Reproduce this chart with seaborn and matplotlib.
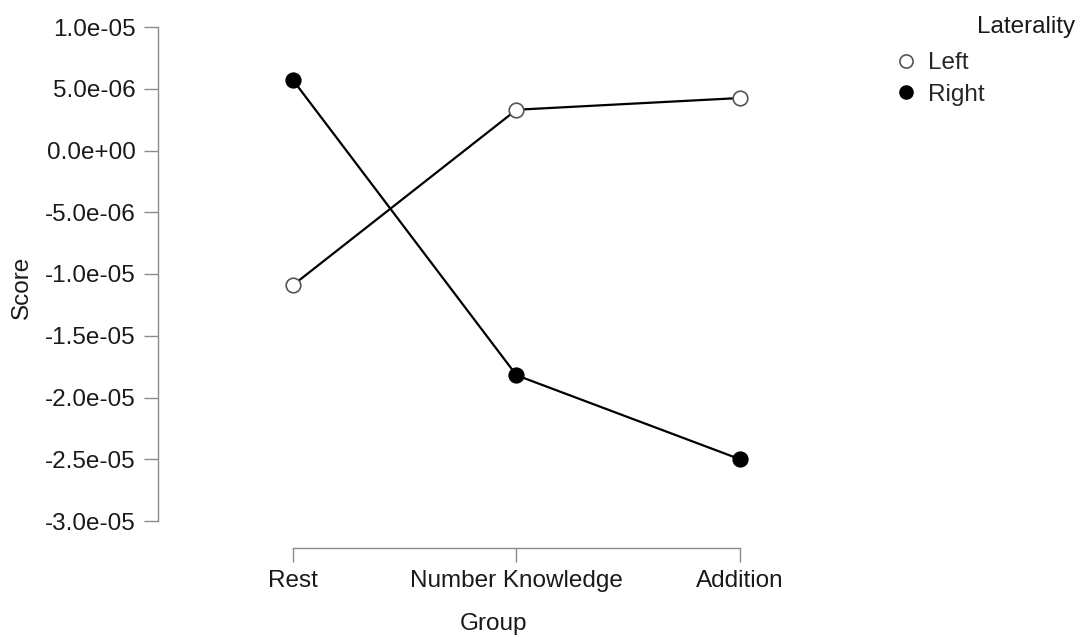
import matplotlib
matplotlib.use("Agg")
import matplotlib.pyplot as plt
from matplotlib.lines import Line2D
import seaborn as sns
import pandas as pd

groups = ["Rest", "Number Knowledge", "Addition"]
left_scores = [-1.09e-05, 3.3e-06, 4.25e-06]
right_scores = [5.7e-06, -1.82e-05, -2.50e-05]
y_ticks = [1.0e-05, 5.0e-06, 0.0, -5.0e-06, -1.0e-05, -1.5e-05, -2.0e-05, -2.5e-05, -3.0e-05]
y_tick_labels = ["1.0e-05", "5.0e-06", "0.0e+00", "-5.0e-06", "-1.0e-05",
                 "-1.5e-05", "-2.0e-05", "-2.5e-05", "-3.0e-05"]

df = pd.DataFrame({
    "Group": groups * 2,
    "Score": left_scores + right_scores,
    "Laterality": ["Left"] * 3 + ["Right"] * 3,
})

sns.set_theme(style="white")
plt.rcParams["font.family"] = ["Liberation Sans", "DejaVu Sans"]

W, H = 1081, 637
FS = 17.5
TXT = "#1a1a1a"
fig = plt.figure(figsize=(W / 100, H / 100), dpi=100)
ax = fig.add_axes([158 / W, 1 - 548 / H, (829 - 158) / W, (548 - 27) / H])

axis_grey = "#8a8a8a"
styles = {
    "Left": dict(markerfacecolor="white", markeredgecolor="#555555"),
    "Right": dict(markerfacecolor="black", markeredgecolor="black"),
}
for lat in ["Left", "Right"]:
    sns.lineplot(data=df[df["Laterality"] == lat], x="Group", y="Score",
                 color="black", linewidth=1.6, marker="o", markersize=10.5,
                 markeredgewidth=1.2, sort=False, ax=ax, clip_on=False,
                 **styles[lat])

# x positions: 0..2 mapped to pixels 293..740 with axes from 158 to 829
px_per_unit = (740 - 293) / 2
ax.set_xlim(-(293 - 158) / px_per_unit, 2 + (829 - 740) / px_per_unit)
px_per_y = (521 - 27) / 4.0e-05
ax.set_ylim(1.0e-05 - (548 - 27) / px_per_y, 1.0e-05)

ax.set_xticks([0, 1, 2])
ax.set_xticklabels(groups)
ax.set_yticks(y_ticks)
ax.set_yticklabels(y_tick_labels)

for side in ["top", "right"]:
    ax.spines[side].set_visible(False)
for side in ["left", "bottom"]:
    ax.spines[side].set_color(axis_grey)
    ax.spines[side].set_linewidth(1.0)
ax.spines["left"].set_bounds(-3.0e-05, 1.0e-05)
ax.spines["bottom"].set_bounds(0, 2)

ax.tick_params(axis="both", which="both", length=10, width=1.0, color=axis_grey,
               labelsize=FS, labelcolor=TXT, direction="out",
               left=True, bottom=True)
ax.tick_params(axis="y", pad=6)
ax.tick_params(axis="x", pad=6)
ax.set_xlabel("Group", fontsize=FS, color=TXT, labelpad=15)
ax.set_ylabel("Score", fontsize=FS, color=TXT, labelpad=9)
ax.grid(False)

fig.text(1075 / W, 1 - 27 / H, "Laterality", ha="right", va="center",
         fontsize=FS, color=TXT)
handles = [
    Line2D([], [], linestyle="none", marker="o", markersize=9.5,
           markerfacecolor="white", markeredgecolor="#555555", markeredgewidth=1.2),
    Line2D([], [], linestyle="none", marker="o", markersize=9.5,
           markerfacecolor="black", markeredgecolor="black"),
]
fig.legend(handles, ["Left", "Right"], loc="upper left",
           bbox_to_anchor=(895 / W, 1 - 52 / H), frameon=False,
           fontsize=FS, handlelength=0.9, handletextpad=0.45,
           labelspacing=0.4, borderaxespad=0, borderpad=0)

fig.savefig("out.png", dpi=100, facecolor="white")
